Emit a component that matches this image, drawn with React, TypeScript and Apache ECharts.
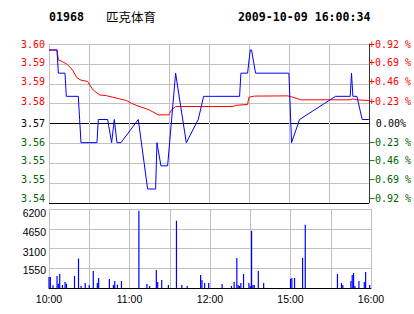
import React, { useEffect, useRef } from 'react';
import * as echarts from 'echarts';

// ---- header texts ----
const stockCode = '01968';
const stockName = '匹克体育';
const stamp = '2009-10-09 16:00:34';

// ---- tick labels ----
// price panel, top -> bottom (tick value 4 .. -4)
const priceLabels = ['3.60', '3.59', '3.59', '3.58', '3.57', '3.56', '3.55', '3.55', '3.54'];
const pctLabels = ['+0.92 %', '+0.69 %', '+0.46 %', '+0.23 %', '0.00%', '\u22120.23 %', '\u22120.46 %', '\u22120.69 %', '\u22120.92 %'];
// volume panel, bottom -> top
const volLabels = ['', '1550', '3100', '4650', '6200'];
// time axis labels every 30 trading minutes
const timeLabels = ['10:00', '', '11:00', '', '12:00', '', '15:00', '', '16:00'];

// price scale range used for plotting (hidden axis)
const PRICE_MIN = 3.53396;
const PRICE_MAX = 3.60259;

// ---- last price (minute index since 10:00, trading minutes) ----
const priceTimes = [0, 6, 7, 12, 13, 22, 23, 24, 36, 37, 44, 47, 49, 51, 54, 67, 74, 80, 81, 84, 89, 95, 103, 112, 116, 143, 144, 149, 151, 152, 155, 180, 182, 188, 215, 226, 227, 228, 231, 235, 240];
const priceValues = [3.60, 3.60, 3.59, 3.59, 3.58, 3.58, 3.57, 3.56, 3.56, 3.57, 3.57, 3.56, 3.57, 3.56, 3.56, 3.57, 3.54, 3.54, 3.56, 3.55, 3.55, 3.59, 3.56, 3.57, 3.58, 3.58, 3.59, 3.59, 3.60, 3.60, 3.59, 3.59, 3.56, 3.57, 3.58, 3.58, 3.59, 3.58, 3.58, 3.57, 3.57];

// ---- average price ----
const avgTimes = [0, 6, 7, 10, 13, 16, 18, 21, 24, 29, 33, 38, 43, 48, 53, 58, 62, 66, 75, 82, 90, 92, 95, 138, 140, 149, 150, 154, 179, 182, 189, 226, 228, 231, 240];
const avgValues = [3.600, 3.600, 3.5957, 3.595, 3.594, 3.5925, 3.591, 3.588, 3.587, 3.5864, 3.5828, 3.5806, 3.5803, 3.5796, 3.5789, 3.5782, 3.577, 3.576, 3.5742, 3.572, 3.572, 3.5742, 3.5756, 3.5756, 3.5761, 3.5765, 3.5796, 3.5801, 3.5802, 3.5798, 3.5785, 3.5785, 3.5789, 3.5785, 3.5782];

// ---- volume ----
const volTimes = [0, 1, 3, 6, 7, 8, 10, 12, 13, 19, 22, 24, 27, 30, 33, 36, 37, 45, 48, 49, 51, 54, 67, 73, 75, 80, 81, 84, 89, 95, 99, 103, 113, 114, 116, 119, 129, 136, 138, 140, 141, 142, 143, 145, 149, 150, 151, 152, 153, 156, 160, 180, 181, 183, 189, 191, 215, 218, 219, 225, 226, 227, 228, 231, 235, 236, 239];
const volValues = [870, 870, 210, 945, 340, 1100, 236, 470, 340, 945, 2310, 160, 390, 236, 1340, 390, 790, 710, 236, 550, 260, 550, 6060, 315, 160, 1420, 470, 630, 236, 5280, 236, 160, 1020, 630, 390, 390, 315, 160, 470, 2360, 236, 160, 390, 1100, 390, 160, 4490, 236, 236, 1340, 390, 710, 790, 790, 2360, 4960, 1100, 390, 236, 550, 1020, 1180, 160, 550, 470, 1260, 236];

const MONO = '"DejaVu Sans Mono", monospace';
const SANS = '"Liberation Sans", Arial, sans-serif';
const GRID = '#c0c0c0';
const RED = '#ff0000';
const GREEN = '#006400';

// small vertical nudges of the price-panel labels (top -> bottom), px lifted
const priceLift = [0, 1, 2, 2, 0, 1, 3, 4, 5];
// downward nudges of volume labels (bottom -> top)
const volDrop = [0, 2, 3, 3, 4];

function buildRich() {
  const rich: Record<string, any> = {};
  const cols: Record<string, string> = { r: RED, k: '#000000', g: GREEN };
  Object.keys(cols).forEach((c) => {
    for (let s = 0; s <= 6; s++) {
      rich[c + s] = { color: cols[c], fontFamily: MONO, fontSize: 10, padding: [0, 0, 2 * s, 0] };
    }
  });
  rich.z = { color: '#000000', fontFamily: MONO, fontSize: 10, padding: [0, 0, 0, 7] };
  return rich;
}

function tickStyle(v: number) {
  const i = 4 - Math.round(v);
  const c = v > 0 ? 'r' : v < 0 ? 'g' : 'k';
  return { i, key: c + priceLift[i] };
}

export default function App() {
  const ref = useRef<HTMLDivElement>(null);

  useEffect(() => {
    if (!ref.current) return;
    const chart = echarts.init(ref.current, null, { renderer: 'svg' });
    const rich = buildRich();
    const volRich: Record<string, any> = {};
    for (let s = 0; s <= 6; s++) {
      volRich['d' + s] = { color: '#000', fontFamily: SANS, fontSize: 10.5, padding: [2 * s, 0, 0, 0] };
    }

    const option: any = {
      animation: false,
      backgroundColor: '#ffffff',
      grid: [
        { left: 49, top: 44, width: 322, height: 159 },
        { left: 49, top: 209, width: 322, height: 79 },
      ],
      xAxis: [
        {
          gridIndex: 0, type: 'value', min: 0, max: 240, interval: 30,
          axisLine: { show: false }, axisTick: { show: false }, axisLabel: { show: false },
          splitLine: { show: true, lineStyle: { color: [GRID, GRID, GRID, GRID, GRID, GRID, GRID, GRID, '#333333'], width: 1 } },
        },
        {
          gridIndex: 1, type: 'value', min: 0, max: 240, interval: 30,
          axisLine: { show: true, onZero: false, lineStyle: { color: '#000', width: 1 } },
          axisTick: { show: false },
          axisLabel: {
            show: true, margin: 5, color: '#000', fontFamily: SANS, fontSize: 10.5,
            formatter: (v: number) => timeLabels[Math.round(v / 30)] || '',
          },
          splitLine: { show: true, lineStyle: { color: GRID, width: 1 } },
        },
      ],
      yAxis: [
        {
          gridIndex: 0, type: 'value', position: 'left', min: -4, max: 4, interval: 1,
          axisLine: { show: false }, axisTick: { show: false },
          splitLine: { show: true, lineStyle: { color: ['#000000', GRID, GRID, GRID, '#000000', GRID, GRID, GRID, GRID], width: 1 } },
          axisLabel: {
            margin: 4, fontFamily: MONO, fontSize: 10, rich,
            formatter: (v: number) => {
              const t = tickStyle(v);
              return '{' + t.key + '|' + priceLabels[t.i] + '}';
            },
          },
        },
        {
          gridIndex: 0, type: 'value', position: 'right', min: -4, max: 4, interval: 1,
          axisLine: { show: true, onZero: false, lineStyle: { color: '#333333', width: 1 } },
          axisTick: { show: false }, splitLine: { show: false },
          axisLabel: {
            margin: 0, align: 'left', fontFamily: MONO, fontSize: 10, rich,
            formatter: (v: number) => {
              const t = tickStyle(v);
              if (Math.round(v) === 0) return '{z|' + pctLabels[t.i] + '}';
              return '{' + t.key + '|' + pctLabels[t.i] + '}';
            },
          },
        },
        {
          gridIndex: 0, type: 'value', min: PRICE_MIN, max: PRICE_MAX, show: false,
          splitLine: { show: false },
        },
        {
          gridIndex: 1, type: 'value', position: 'left', min: 0, max: 6200, interval: 1550,
          axisLine: { show: false }, axisTick: { show: false },
          splitLine: { show: true, lineStyle: { color: ['#000000', GRID, GRID, GRID, GRID], width: 1 } },
          axisLabel: {
            margin: 3, rich: volRich, fontFamily: SANS, fontSize: 10.5,
            formatter: (v: number) => {
              const i = Math.round(v / 1550);
              return volLabels[i] ? '{d' + volDrop[i] + '|' + volLabels[i] + '}' : '';
            },
          },
        },
      ],
      graphic: [
        {
          type: 'text', x: 49, y: 17,
          style: { text: stockCode, font: 'bold 11.6px ' + MONO, fill: '#000', verticalAlign: 'middle', textVerticalAlign: 'middle' },
        },
        {
          type: 'text', x: 106, y: 16,
          style: { text: stockName, font: '12.5px "Noto Sans CJK SC"', fill: '#000', verticalAlign: 'middle', textVerticalAlign: 'middle' },
        },
        {
          type: 'text', x: 370.5, y: 17,
          style: { text: stamp, font: 'bold 11.6px ' + MONO, fill: '#000', align: 'right', textAlign: 'right', verticalAlign: 'middle', textVerticalAlign: 'middle' },
        },
      ],
      series: [
        {
          name: 'avg', type: 'line', xAxisIndex: 0, yAxisIndex: 2,
          data: avgTimes.map((t, i) => [t, avgValues[i]]),
          showSymbol: false, symbol: 'none', lineStyle: { color: RED, width: 1 }, z: 3,
        },
        {
          name: 'price', type: 'line', xAxisIndex: 0, yAxisIndex: 2,
          data: priceTimes.map((t, i) => [t, priceValues[i]]),
          showSymbol: false, symbol: 'none', lineStyle: { color: '#0000ff', width: 1 }, z: 4,
        },
        {
          name: 'vol', type: 'bar', xAxisIndex: 1, yAxisIndex: 3,
          data: volTimes.map((t, i) => [t, volValues[i]]),
          barWidth: 1.2, itemStyle: { color: '#0000ff' },
        },
      ],
    };
    chart.setOption(option);
    return () => chart.dispose();
  }, []);

  return (
    <div
      ref={ref}
      style={{ position: 'fixed', left: 0, top: 0, width: 414, height: 314, background: '#ffffff' }}
    />
  );
}
